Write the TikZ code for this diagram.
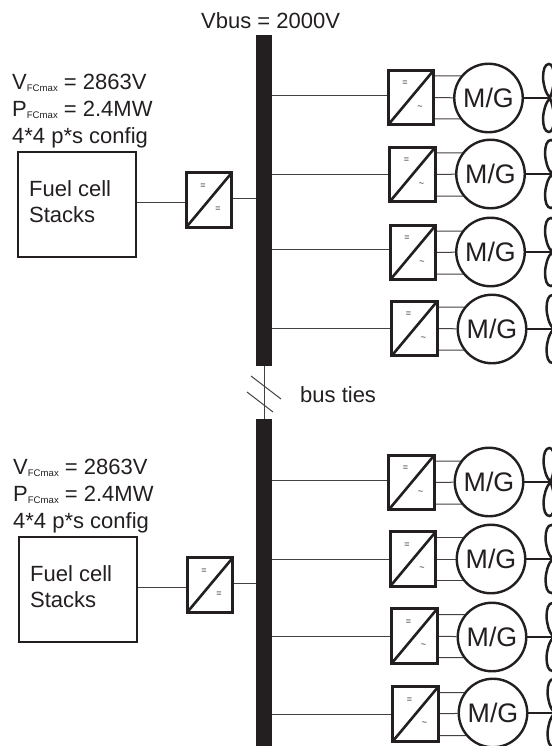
\documentclass[tikz,border=0pt]{standalone}
\usepackage{fontspec}
\setmainfont{Liberation Sans}
\usepackage{xcolor}
\usetikzlibrary{positioning,backgrounds}
\definecolor{ink}{HTML}{231F20}
\newcommand{\fcmax}{\raisebox{-2.5pt}{\fontsize{9.6}{10}\selectfont FCmax}}
\tikzset{
  txt/.style    ={inner sep=0pt, align=left, text=ink, font=\fontsize{22}{26}\selectfont},
  info/.style   ={txt, font=\fontsize{22}{27}\selectfont},
  stack/.style  ={rectangle, draw=ink, line width=2.4pt, fill=white,
                  minimum width=117.5pt, minimum height=105pt},
  sym/.style    ={inner sep=0pt, text=ink, font=\fontsize{9}{10}\selectfont},
  conv/.style   ={rectangle, draw=ink, line width=2.6pt, fill=white,
                  minimum width=45.5pt, minimum height=54.5pt,
                  path picture={\draw[ink, line width=2.6pt]
                    (path picture bounding box.south west) -- (path picture bounding box.north east);},
                  label={[sym, xshift=-6pt, yshift=14pt]center:=}},
  convdc/.style ={conv, label={[sym, xshift=9pt, yshift=-9pt]center:=}},
  convac/.style ={conv, label={[sym, xshift=9pt, yshift=-10pt]center:\textasciitilde}},
  mg/.style     ={circle, draw=ink, line width=2.4pt, fill=white, inner sep=0pt,
                  minimum size=68.5pt, text=ink, font=\fontsize{26.8}{30}\selectfont},
  bus/.style    ={rectangle, fill=ink, minimum width=16pt, inner sep=0pt},
  wire/.style   ={draw=ink!85, line width=1pt},
  shaft/.style  ={draw=ink, line width=2.5pt},
  blades/.pic   ={
    \draw[ink, line width=2.5pt] (0,0) .. controls (-9,-10) and (-9,-34) .. (-1,-34)
      .. controls (5,-34) and (6,-15) .. (0,0)
      .. controls (-9,10) and (-9,34) .. (-1,34)
      .. controls (5,34) and (6,15) .. (0,0);
  },
}
\begin{document}
\begin{tikzpicture}[x=1pt, y=-1pt]
  \useasboundingbox (0,0) rectangle (551,746);

  % dc buses
  \node[bus, minimum height=331pt] (busA) at (264,200.5) {};
  \node[bus, minimum height=327pt] (busB) at (264,582.5) {};
  \node[txt, anchor=base west] (vbus) at (201,29) {Vbus = 2000V};

  % bus ties
  \coordinate (tieAa) at (251,376);
  \coordinate (tieAb) at (281,399);
  \coordinate (tieBa) at (247,392);
  \coordinate (tieBb) at (273,412);
  \draw[wire] (tieAa) -- (tieAb);
  \draw[wire] (tieBa) -- (tieBb);
  \node[txt, anchor=base west] (ties) at (300,402) {bus ties};

  % fuel cell side, upper
  \node[stack] (stackA) at (77,204.5) {};
  \node[txt, anchor=north west] (stackAtxt) at (29,180) {Fuel cell\\Stacks};
  \node[info, anchor=north west] (infoA) at (12,73.5)
       {V\fcmax{} = 2863V\\P\fcmax{} = 2.4MW\\4*4 p*s config};
  \node[convdc] (dcA) at (209,200) {};

  % fuel cell side, lower
  \node[stack] (stackB) at (78,589.5) {};
  \node[txt, anchor=north west] (stackBtxt) at (30,565) {Fuel cell\\Stacks};
  \node[info, anchor=north west] (infoB) at (13,458.5)
       {V\fcmax{} = 2863V\\P\fcmax{} = 2.4MW\\4*4 p*s config};
  \node[convdc] (dcB) at (210,585) {};

  % upper drives
  \node[convac] (convA) at (411,97.5) {};
  \node[mg] (mgA) at (488.5,98) {M/G};
  \coordinate[right=26pt of mgA] (hubA);
  \node[convac] (convB) at (412.5,174.5) {};
  \node[mg] (mgB) at (490.5,174) {M/G};
  \coordinate[right=26pt of mgB] (hubB);
  \node[convac] (convC) at (413,252.5) {};
  \node[mg] (mgC) at (490.5,252) {M/G};
  \coordinate[right=26pt of mgC] (hubC);
  \node[convac] (convD) at (414.5,328.5) {};
  \node[mg] (mgD) at (492,329) {M/G};
  \coordinate[right=26pt of mgD] (hubD);

  % lower drives
  \node[convac] (convE) at (411.5,482.5) {};
  \node[mg] (mgE) at (489,482) {M/G};
  \coordinate[right=26pt of mgE] (hubE);
  \node[convac] (convF) at (413,559) {};
  \node[mg] (mgF) at (491,559) {M/G};
  \coordinate[right=26pt of mgF] (hubF);
  \node[convac] (convG) at (414.5,636) {};
  \node[mg] (mgG) at (492,637) {M/G};
  \coordinate[right=26pt of mgG] (hubG);
  \node[convac] (convH) at (415.5,714) {};
  \node[mg] (mgH) at (493,713) {M/G};
  \coordinate[right=26pt of mgH] (hubH);

  \pic at (hubA) {blades};
  \pic at (hubB) {blades};
  \pic at (hubC) {blades};
  \pic at (hubD) {blades};
  \pic at (hubE) {blades};
  \pic at (hubF) {blades};
  \pic at (hubG) {blades};
  \pic at (hubH) {blades};

  % wires go behind the boxes
  \begin{scope}[on background layer]
    \draw[wire] (busA) -- (busB);
    \draw[wire] ([yshift=2pt]stackA.east) -- ([yshift=2pt]stackA.east -| dcA.west);
    \draw[wire] ([yshift=2pt]dcA.east) -- ([yshift=2pt]dcA.east -| busA.east);
    \draw[wire] ([yshift=2pt]stackB.east) -- ([yshift=2pt]stackB.east -| dcB.west);
    \draw[wire] ([yshift=2pt]dcB.east) -- ([yshift=2pt]dcB.east -| busB.east);

    \draw[wire] ([yshift=2pt]convA.west) -- ([yshift=2pt]convA.west -| busA.east);
    \draw[wire] (convA) -- (mgA) ([yshift=21.5pt]convA.east) -- ([yshift=21.5pt]convA.east -| mgA) ([yshift=-21.5pt]convA.east) -- ([yshift=-21.5pt]convA.east -| mgA);
    \draw[shaft] (mgA) -- (hubA);
    \draw[wire] (convB.west) -- (convB.west -| busA.east);
    \draw[wire] (convB) -- (mgB) ([yshift=21.5pt]convB.east) -- ([yshift=21.5pt]convB.east -| mgB) ([yshift=-21.5pt]convB.east) -- ([yshift=-21.5pt]convB.east -| mgB);
    \draw[shaft] (mgB) -- (hubB);
    \draw[wire] ([yshift=3pt]convC.west) -- ([yshift=3pt]convC.west -| busA.east);
    \draw[wire] (convC) -- (mgC) ([yshift=21.5pt]convC.east) -- ([yshift=21.5pt]convC.east -| mgC) ([yshift=-21.5pt]convC.east) -- ([yshift=-21.5pt]convC.east -| mgC);
    \draw[shaft] (mgC) -- (hubC);
    \draw[wire] (convD.west) -- (convD.west -| busA.east);
    \draw[wire] (convD) -- (mgD) ([yshift=21.5pt]convD.east) -- ([yshift=21.5pt]convD.east -| mgD) ([yshift=-21.5pt]convD.east) -- ([yshift=-21.5pt]convD.east -| mgD);
    \draw[shaft] (mgD) -- (hubD);

    \draw[wire] ([yshift=2pt]convE.west) -- ([yshift=2pt]convE.west -| busB.east);
    \draw[wire] (convE) -- (mgE) ([yshift=21.5pt]convE.east) -- ([yshift=21.5pt]convE.east -| mgE) ([yshift=-21.5pt]convE.east) -- ([yshift=-21.5pt]convE.east -| mgE);
    \draw[shaft] (mgE) -- (hubE);
    \draw[wire] (convF.west) -- (convF.west -| busB.east);
    \draw[wire] (convF) -- (mgF) ([yshift=21.5pt]convF.east) -- ([yshift=21.5pt]convF.east -| mgF) ([yshift=-21.5pt]convF.east) -- ([yshift=-21.5pt]convF.east -| mgF);
    \draw[shaft] (mgF) -- (hubF);
    \draw[wire] (convG.west) -- (convG.west -| busB.east);
    \draw[wire] (convG) -- (mgG) ([yshift=21.5pt]convG.east) -- ([yshift=21.5pt]convG.east -| mgG) ([yshift=-21.5pt]convG.east) -- ([yshift=-21.5pt]convG.east -| mgG);
    \draw[shaft] (mgG) -- (hubG);
    \draw[wire] (convH.west) -- (convH.west -| busB.east);
    \draw[wire] (convH) -- (mgH) ([yshift=21.5pt]convH.east) -- ([yshift=21.5pt]convH.east -| mgH) ([yshift=-21.5pt]convH.east) -- ([yshift=-21.5pt]convH.east -| mgH);
    \draw[shaft] (mgH) -- (hubH);
  \end{scope}
\end{tikzpicture}
\end{document}
